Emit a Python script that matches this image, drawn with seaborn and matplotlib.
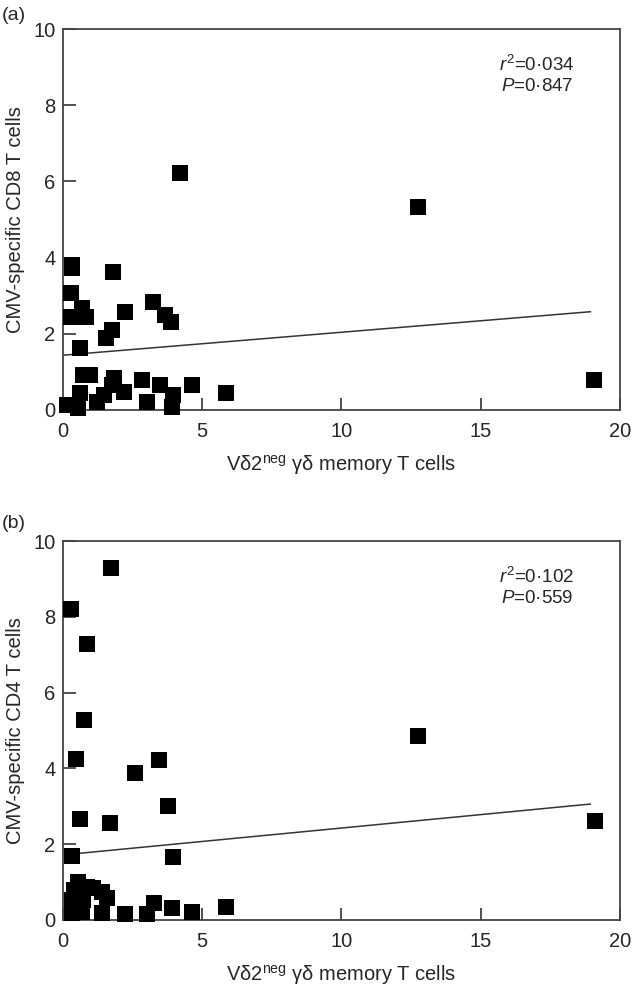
import numpy as np
import pandas as pd
import seaborn as sns
import matplotlib
matplotlib.use("Agg")
import matplotlib.pyplot as plt

# panel (a): CD8
cd8_x = [0.33, 0.35, 0.31, 0.69, 0.30, 0.85, 0.62, 1.82, 1.56, 1.76, 2.24, 3.26, 3.67, 3.88,
         0.75, 1.00, 0.62, 0.15, 0.57, 1.23, 1.47, 1.83, 1.79, 2.19, 2.85, 3.03, 3.50, 3.97,
         3.91, 4.63, 5.86, 4.21, 12.75, 19.06]
cd8_y = [3.80, 3.72, 3.06, 2.67, 2.45, 2.45, 1.62, 3.63, 1.88, 2.10, 2.58, 2.84, 2.49, 2.32,
         0.92, 0.92, 0.44, 0.13, 0.04, 0.22, 0.40, 0.83, 0.66, 0.48, 0.79, 0.22, 0.66, 0.39,
         0.09, 0.66, 0.45, 6.21, 5.34, 0.79]
cd8_fit_x = [0.05, 18.93]
cd8_fit_y = [1.44, 2.58]

# panel (b): CD4
cd4_x = [1.73, 0.29, 0.89, 0.78, 0.47, 3.47, 2.60, 3.79, 0.63, 1.70, 3.97, 0.33,
         0.57, 0.33, 0.33, 0.69, 1.10, 1.40, 1.58, 1.40, 2.24, 3.02, 3.28, 3.91, 4.63,
         5.85, 0.87, 0.40, 0.75, 12.75, 19.09]
cd4_y = [9.30, 8.21, 7.28, 5.28, 4.24, 4.22, 3.87, 3.02, 2.66, 2.57, 1.67, 1.70,
         1.01, 0.53, 0.18, 0.22, 0.84, 0.75, 0.57, 0.18, 0.16, 0.16, 0.44, 0.31, 0.22,
         0.33, 0.88, 0.80, 0.53, 4.85, 2.62]
cd4_fit_x = [0.05, 18.93]
cd4_fit_y = [1.72, 3.06]

panels = [
    ("CMV-specific CD8 T cells", cd8_x, cd8_y, cd8_fit_x, cd8_fit_y, "0·034", "0·847"),
    ("CMV-specific CD4 T cells", cd4_x, cd4_y, cd4_fit_x, cd4_fit_y, "0·102", "0·559"),
]

sns.set_style("ticks")
plt.rcParams['font.family'] = ['Liberation Sans Narrow', 'Liberation Sans', 'DejaVu Sans']
plt.rcParams['mathtext.fontset'] = 'custom'
plt.rcParams['mathtext.rm'] = 'Liberation Sans'
plt.rcParams['mathtext.it'] = 'Liberation Sans:italic'

fig = plt.figure(figsize=(6.34, 9.92), dpi=100)
axes = [fig.add_axes([0.0986, 0.5867, 0.880, 0.384]),
        fig.add_axes([0.0986, 0.0726, 0.880, 0.382])]

for ax, (ylab, xs, ys, fx, fy, r2, p) in zip(axes, panels):
    df = pd.DataFrame({"x": xs, "y": ys})
    sns.lineplot(x=fx, y=fy, ax=ax, color="#333333", lw=1.1)
    sns.scatterplot(data=df, x="x", y="y", ax=ax, marker="s", s=125, color="black",
                    edgecolor="black", linewidth=0, zorder=3, clip_on=False)
    ax.set_xlim(0, 20)
    ax.set_ylim(0, 10)
    ax.set_xticks([0, 5, 10, 15, 20])
    ax.set_yticks([0, 2, 4, 6, 8, 10])
    ax.tick_params(direction="in", length=9, width=1.2, color="#333333",
                   labelsize=14.5, top=False, right=False)
    ax.tick_params(axis="x", pad=9)
    ax.tick_params(axis="y", pad=5)
    for sp in ax.spines.values():
        sp.set_color("#444444")
        sp.set_linewidth(1.3)
    ax.set_xlabel("Vδ2$^{\\mathrm{neg}}$ γδ memory T cells", fontsize=14.5, labelpad=8)
    ax.set_ylabel(ylab, fontsize=14.5, labelpad=6)
    ax.text(17.0, 9.05, r"$r^2$=" + r2, fontsize=13.5, ha="center", va="center")
    ax.text(17.0, 8.48, r"$P$=" + p, fontsize=13.5, ha="center", va="center")

fig.text(0.003, 1 - 15 / 992, "(a)", fontsize=14, va="center")
fig.text(0.003, 1 - 523 / 992, "(b)", fontsize=14, va="center")

fig.savefig("out.png", dpi=100)
